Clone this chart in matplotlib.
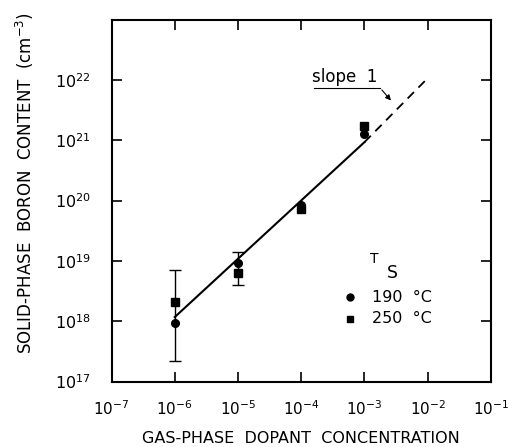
import matplotlib
matplotlib.use('Agg')
import matplotlib.pyplot as plt
import numpy as np

plt.rcParams['font.family'] = ['DejaVu Sans']
plt.rcParams['mathtext.default'] = 'regular'

# gas phase dopant concentration
conc = [1e-6, 1e-5, 1e-4, 1e-3]
# solid phase boron content (cm^-3)
boron_190 = [9.4e17, 9.1e18, 8.5e19, 1.25e21]
boron_250 = [2.1e18, 6.2e18, 7.2e19, 1.75e21]

# error bars
err_conc = [1e-6, 1e-5]
err_low = [2.2e17, 4.0e18]
err_high = [7.1e18, 1.4e19]

# fitted line, solid part and extrapolation
fit_x = [1e-6, 1e-3]
fit_y = [1.17e18, 9.3e20]
extra_x = [1e-3, 1.0e-2]
extra_y = [9.3e20, 1.07e22]

xticks = [1e-7, 1e-6, 1e-5, 1e-4, 1e-3, 1e-2, 1e-1]
xlabels = ['$10^{-7}$', '$10^{-6}$', '$10^{-5}$', '$10^{-4}$', '$10^{-3}$', '$10^{-2}$', '$10^{-1}$']
yticks = [1e17, 1e18, 1e19, 1e20, 1e21, 1e22]
ylabels = ['$10^{17}$', '$10^{18}$', '$10^{19}$', '$10^{20}$', '$10^{21}$', '$10^{22}$']

fig = plt.figure(figsize=(5.08, 4.47), dpi=100)
ax = fig.add_axes([0.2195, 0.1465, 0.747, 0.8097])

ax.set_xscale('log')
ax.set_yscale('log')
ax.set_xlim(1e-7, 1e-1)
ax.set_ylim(1e17, 1e23)

ax.plot(fit_x, fit_y, color='black', lw=1.5)
ax.plot(extra_x, extra_y, color='black', lw=1.3, dashes=(5, 3.5))

mid = np.array(boron_190[:2])
ax.errorbar(err_conc, mid, yerr=[mid - np.array(err_low), np.array(err_high) - mid],
	fmt='none', ecolor='black', elinewidth=1.0, capsize=4, capthick=1.0)

ax.plot(conc, boron_190, 'o', color='black', ms=5.5, ls='none')
ax.plot(conc, boron_250, 's', color='black', ms=5.5, ls='none')

# slope annotation
ax.text(1.48e-4, 9.3e21, 'slope  1', fontsize=12)
ax.plot([1.58e-4, 1.76e-3], [7.4e21, 7.4e21], color='black', lw=0.8)
ax.annotate('', xy=(2.8e-3, 4.2e21), xytext=(1.76e-3, 7.4e21),
	arrowprops=dict(arrowstyle='-|>', color='black', lw=0.8, mutation_scale=8))

# legend drawn by hand
ax.text(0.693, 0.338, 'T', transform=ax.transAxes, fontsize=10, ha='center', va='center')
ax.text(0.740, 0.300, 'S', transform=ax.transAxes, fontsize=12.5, ha='center', va='center')
ax.plot([0.628], [0.233], 'o', color='black', ms=5, transform=ax.transAxes)
ax.plot([0.628], [0.173], 's', color='black', ms=5, transform=ax.transAxes)
ax.text(0.686, 0.233, '190  °C', transform=ax.transAxes, fontsize=11.5, va='center')
ax.text(0.686, 0.173, '250  °C', transform=ax.transAxes, fontsize=11.5, va='center')

ax.set_xticks(xticks)
ax.set_xticklabels(xlabels)
ax.set_yticks(yticks)
ax.set_yticklabels(ylabels)
ax.minorticks_off()
ax.tick_params(direction='in', length=7, width=1.2, top=True, right=True, labelsize=11.5)
ax.tick_params(axis='x', pad=13, labelsize=11)
ax.tick_params(axis='y', pad=15)
for s in ax.spines.values():
	s.set_linewidth(1.5)

ax.set_xlabel('GAS-PHASE  DOPANT  CONCENTRATION', fontsize=11.5)
ax.xaxis.set_label_coords(0.5, -0.136)
ax.set_ylabel('SOLID-PHASE  BORON  CONTENT  (cm$^{-3}$)', fontsize=12)
ax.yaxis.set_label_coords(-0.20, 0.548)

fig.savefig('out.png', dpi=100)
